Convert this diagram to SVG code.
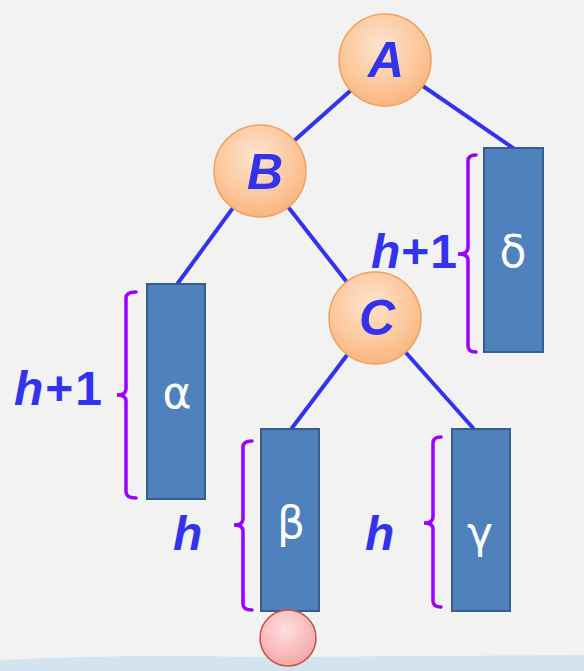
<svg xmlns="http://www.w3.org/2000/svg" width="584" height="671" viewBox="0 0 584 671">
<defs>
<radialGradient id="peach" cx="0.45" cy="0.35" r="0.7">
<stop offset="0" stop-color="#fde4cf"/>
<stop offset="0.6" stop-color="#fcc89c"/>
<stop offset="1" stop-color="#f8b27a"/>
</radialGradient>
<radialGradient id="pink" cx="0.45" cy="0.35" r="0.7">
<stop offset="0" stop-color="#fde0e0"/>
<stop offset="1" stop-color="#f5a3a3"/>
</radialGradient>
<style>
.edge{stroke:#3333ee;stroke-width:4;fill:none;stroke-linecap:round}
.node{fill:url(#peach);stroke:#f0a060;stroke-width:1.5}
.lbl{font-family:"Liberation Sans",Arial,sans-serif;font-weight:bold;font-style:italic;fill:#3333ee;font-size:50px;text-anchor:middle}
.tree{fill:#4f81bd;stroke:#385d8a;stroke-width:2}
.greek{font-family:"DejaVu Sans","Noto Sans",sans-serif;fill:#ffffff;font-size:44px;text-anchor:middle}
.br{stroke:#9900ff;stroke-width:3.5;fill:none;stroke-linecap:round}
.ht{font-family:"Liberation Sans",Arial,sans-serif;font-weight:bold;fill:#3333ee;font-size:48px}
.it{font-style:italic}
</style>
</defs>
<rect width="584" height="671" fill="#f2f2f2"/>
<path d="M0 660 Q120 654 260 657 L584 655 L584 671 L0 671 Z" fill="#d3e4ee"/>
<g id="connectors">
<line class="edge" x1="385" y1="60" x2="260" y2="171"/>
<line class="edge" x1="385" y1="60" x2="513" y2="148"/>
<line class="edge" x1="260" y1="171" x2="178" y2="283"/>
<line class="edge" x1="260" y1="171" x2="375" y2="318"/>
<line class="edge" x1="375" y1="318" x2="292" y2="428"/>
<line class="edge" x1="375" y1="318" x2="473" y2="428"/>
</g>
<g id="delta">
<rect class="tree" x="484" y="148" width="59" height="204"/>
<text class="greek" x="513" y="267">δ</text>
</g>
<g id="alpha">
<rect class="tree" x="147" y="284" width="58" height="215"/>
<text class="greek" x="177" y="408">α</text>
</g>
<g id="beta">
<rect class="tree" x="261" y="429" width="58" height="182"/>
<text class="greek" x="291" y="538">β</text>
</g>
<g id="gamma">
<rect class="tree" x="452" y="429" width="58" height="182"/>
<text class="greek" x="480" y="548">γ</text>
</g>
<g id="A">
<circle class="node" cx="385" cy="60" r="46"/>
<text class="lbl" x="386" y="77">A</text>
</g>
<g id="B">
<circle class="node" cx="260" cy="171" r="46"/>
<text class="lbl" x="265" y="189">B</text>
</g>
<g id="C">
<circle class="node" cx="375" cy="318" r="46"/>
<text class="lbl" x="377" y="335">C</text>
</g>
<g id="pinkball">
<circle cx="288" cy="638" r="28" fill="url(#pink)" stroke="#c0504d" stroke-width="1.5"/>
</g>
<g id="brackets">
<path class="br" d="M476 155 Q468 155 468 161 L468 248 Q468 254 458 254 Q468 254 468 260 L468 346 Q468 352 476 352"/>
<path class="br" d="M136 292 Q126 292 126 298 L126 389 Q126 395 117 395 Q126 395 126 401 L126 492 Q126 498 136 498"/>
<path class="br" d="M252 441 Q243 441 243 447 L243 519 Q243 525 234 525 Q243 525 243 531 L243 604 Q243 610 252 610"/>
<path class="br" d="M441 437 Q433 437 433 443 L433 517 Q433 523 424 523 Q433 523 433 529 L433 601 Q433 607 441 607"/>
</g>
<g id="labels">
<text class="ht" x="14" y="405" letter-spacing="2"><tspan class="it">h</tspan>+1</text>
<text class="ht" x="371" y="268" letter-spacing="1"><tspan class="it">h</tspan>+1</text>
<text class="ht it" x="173" y="550">h</text>
<text class="ht it" x="365" y="550">h</text>
</g>
</svg>
